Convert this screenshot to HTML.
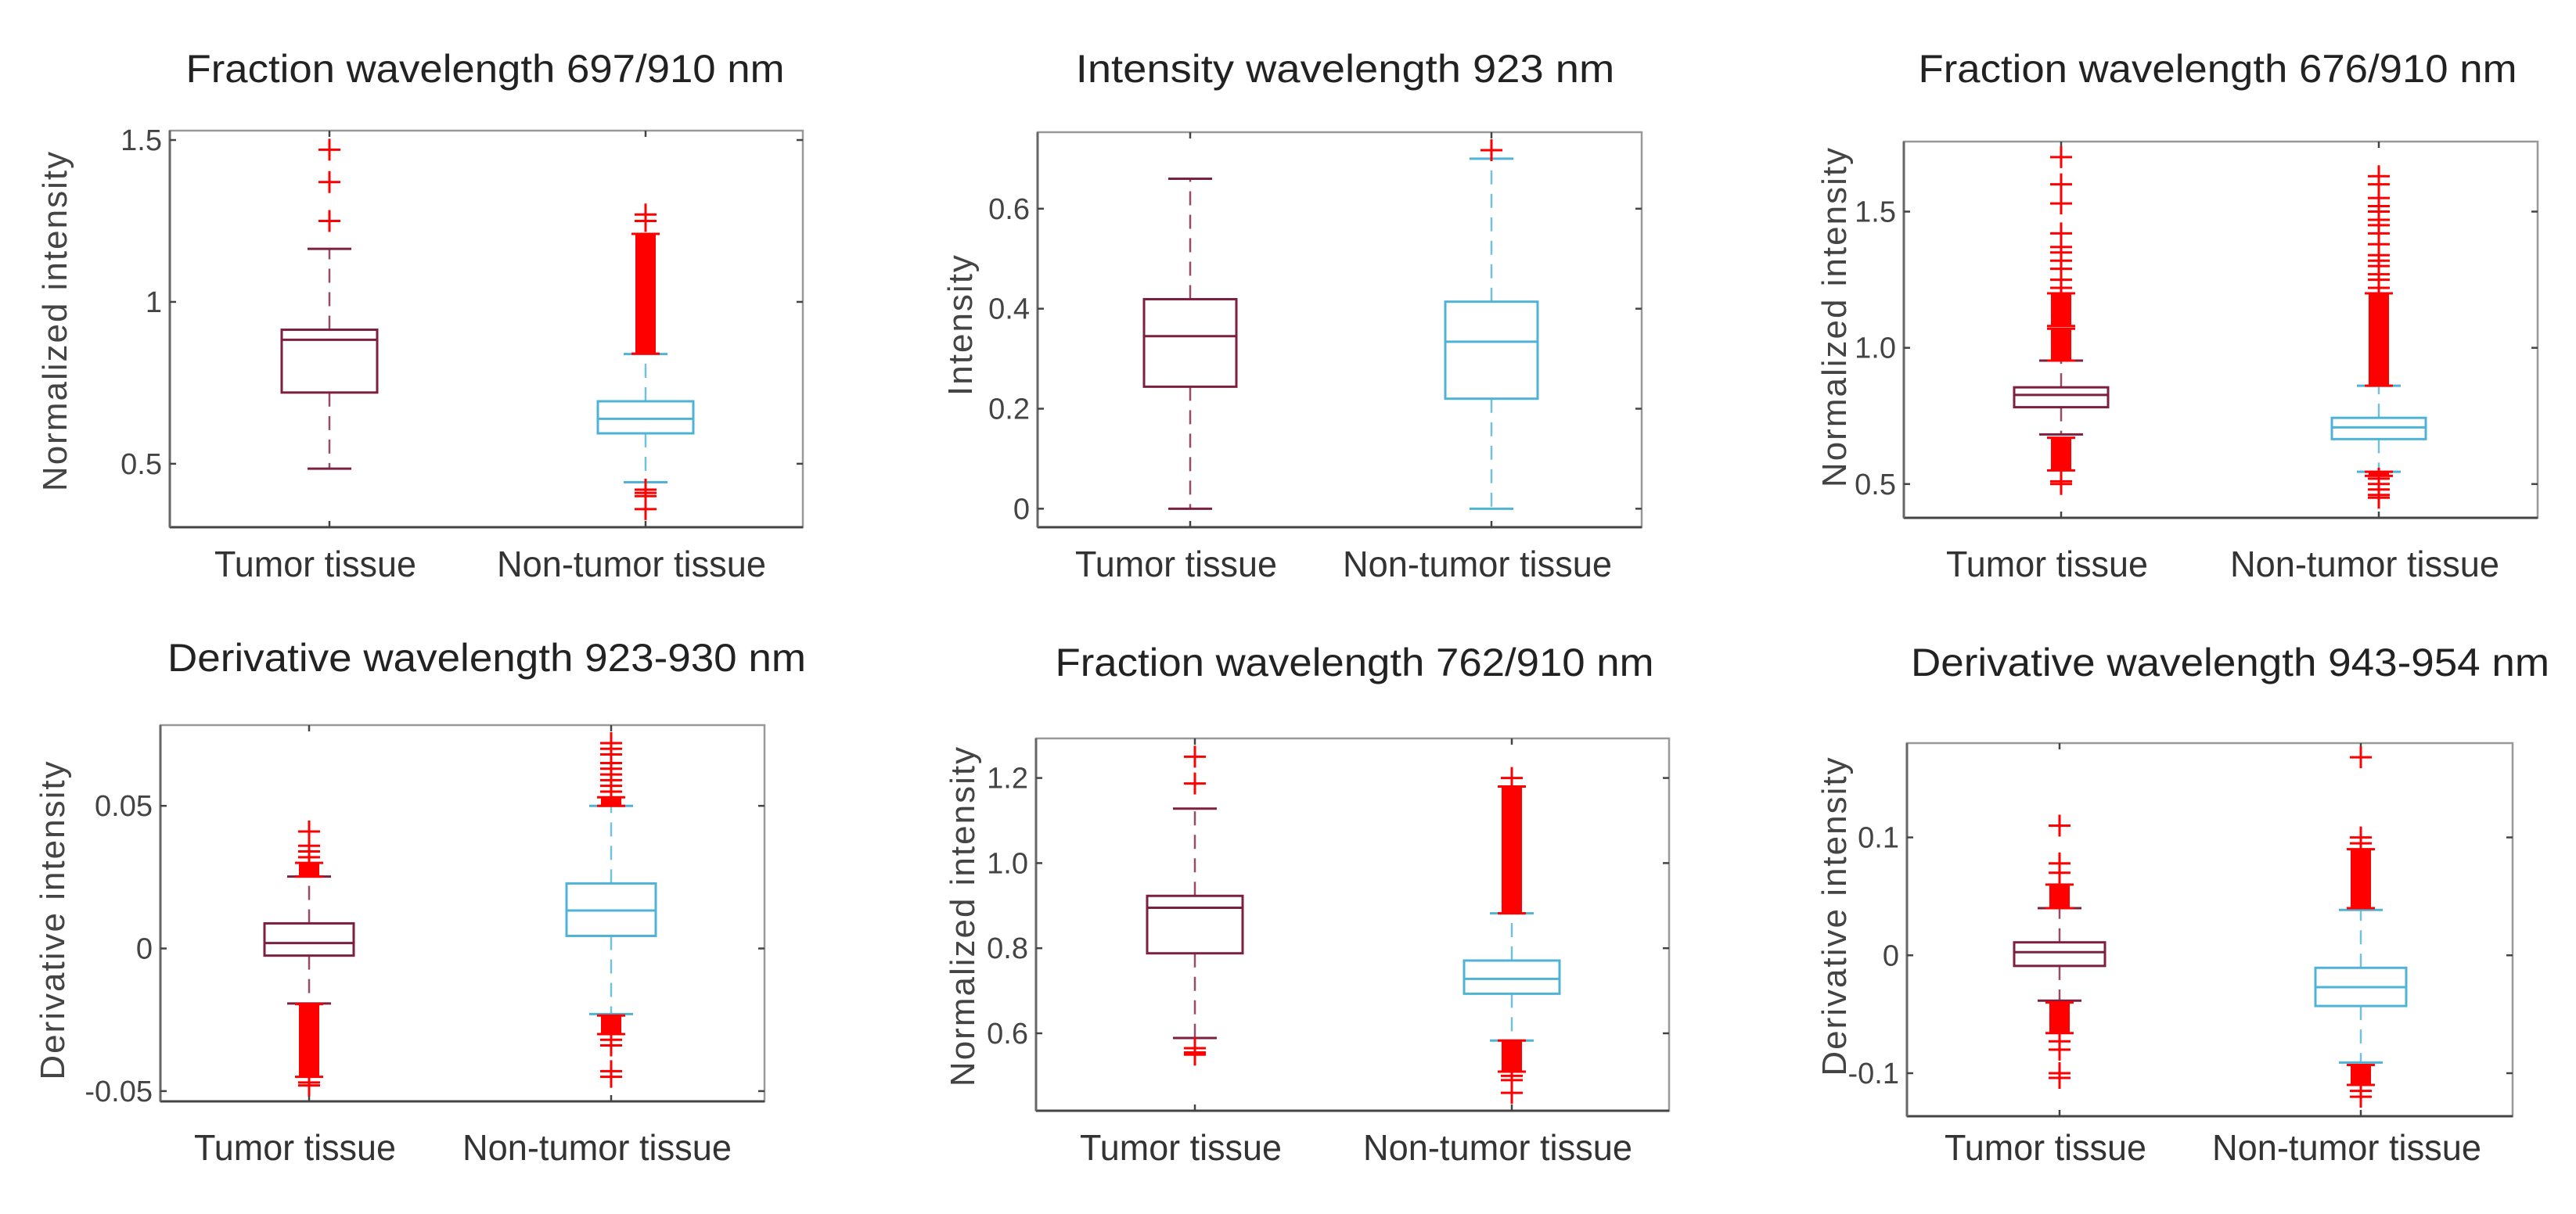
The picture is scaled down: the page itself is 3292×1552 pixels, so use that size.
<!DOCTYPE html>
<html><head><meta charset="utf-8"><style>
html,body{margin:0;padding:0;background:#fff;}
svg{display:block;}
text{font-family:"Liberation Sans",sans-serif;}
</style></head><body>
<svg id="fig" width="3292" height="1552" viewBox="0 0 3292 1552" xmlns="http://www.w3.org/2000/svg"></svg>
<script>
// ---------- data ----------
const categories = ["Tumor tissue", "Non-tumor tissue"];
const titles = ["Fraction wavelength 697/910 nm","Intensity wavelength 923 nm","Fraction wavelength 676/910 nm",
  "Derivative wavelength 923-930 nm","Fraction wavelength 762/910 nm","Derivative wavelength 943-954 nm"];
const yTitles = ["Normalized intensity","Intensity","Normalized intensity","Derivative intensity","Normalized intensity","Derivative intensity"];

// stats: [lowerWhisker, q1, median, q3, upperWhisker]
const p1Range=[0.304,1.529]; const p1Ticks=[0.5,1,1.5]; const p1TickLabels=["0.5","1","1.5"];
const p1Tumor=[0.485,0.72,0.883,0.914,1.164]; const p1Non=[0.443,0.594,0.639,0.693,0.839];
const p1TumorOut=[1.25,1.37,1.47]; const p1NonOut=[1.25,1.27,0.42,0.41,0.40,0.36];
const p1TumorDense=[]; const p1NonDense=[[0.84,1.21]];

const p2Range=[-0.037,0.753]; const p2Ticks=[0,0.2,0.4,0.6]; const p2TickLabels=["0","0.2","0.4","0.6"];
const p2Tumor=[0,0.244,0.345,0.419,0.66]; const p2Non=[0,0.22,0.334,0.414,0.70];
const p2TumorOut=[]; const p2NonOut=[0.717];
const p2TumorDense=[]; const p2NonDense=[];

const p3Range=[0.376,1.757]; const p3Ticks=[0.5,1.0,1.5]; const p3TickLabels=["0.5","1.0","1.5"];
const p3Tumor=[0.682,0.782,0.827,0.855,0.953]; const p3Non=[0.545,0.665,0.708,0.743,0.861];
const p3TumorOut=[1.70,1.60,1.53,1.42,1.37,1.35,1.32,1.29,1.25,1.22,0.50,0.51];
const p3NonOut=[1.63,1.60,1.55,1.52,1.50,1.47,1.45,1.42,1.38,1.34,1.32,1.30,1.27,1.25,1.22,0.52,0.50,0.48,0.46,0.45];
const p3TumorDense=[[0.953,1.07],[1.08,1.2],[0.55,0.67]]; const p3NonDense=[[0.861,1.2],[0.53,0.545]];

const p4Range=[-0.0536,0.0783]; const p4Ticks=[-0.05,0,0.05]; const p4TickLabels=["-0.05","0","0.05"];
const p4Tumor=[-0.0193,-0.0025,0.0019,0.0088,0.0252]; const p4Non=[-0.023,0.0044,0.0133,0.0228,0.05];
const p4TumorOut=[0.032,0.034,0.036,0.041,-0.047,-0.048];
const p4NonOut=[0.055,0.057,0.059,0.061,0.063,0.065,0.068,0.070,0.072,-0.032,-0.034,-0.043,-0.045];
const p4TumorDense=[[0.0252,0.030],[-0.045,-0.0195]]; const p4NonDense=[[0.05,0.053],[-0.030,-0.0235]];

const p5Range=[0.418,1.293]; const p5Ticks=[0.6,0.8,1.0,1.2]; const p5TickLabels=["0.6","0.8","1.0","1.2"];
const p5Tumor=[0.589,0.788,0.895,0.923,1.128]; const p5Non=[0.583,0.693,0.728,0.771,0.882];
const p5TumorOut=[1.25,1.187,0.565,0.555,0.55]; const p5NonOut=[1.2,1.18,0.50,0.49,0.46];
const p5TumorDense=[]; const p5NonDense=[[0.882,1.18],[0.51,0.583]];

const p6Range=[-0.1365,0.180]; const p6Ticks=[-0.1,0,0.1]; const p6TickLabels=["-0.1","0","0.1"];
const p6Tumor=[-0.0385,-0.009,0.0027,0.011,0.040]; const p6Non=[-0.091,-0.043,-0.027,-0.0106,0.0385];
const p6TumorOut=[0.11,0.07,0.078,-0.073,-0.08,-0.1,-0.104];
const p6NonOut=[0.168,0.1,0.095,-0.115,-0.12];
const p6TumorDense=[[0.04,0.06],[-0.066,-0.04]]; const p6NonDense=[[0.04,0.09],[-0.11,-0.093]];

// ---------- layout (pixels, not data) ----------
const layout=[
 {ax:[217,167,1026,674], cx:[421,825], hw:61, tx:620, ty:105, yx:70, yy:410, lx:737},
 {ax:[1326,169,2098,674], cx:[1521,1906], hw:59, tx:1719, ty:105, yx:1227, yy:415, lx:737},
 {ax:[2433,181,3243,662], cx:[2634,3040], hw:60, tx:2834, ty:105, yx:2344, yy:405, lx:737},
 {ax:[205,927,977,1408], cx:[395,781], hw:57, tx:622, ty:858, yx:67, yy:1176, lx:1483},
 {ax:[1324,944,2133,1420], cx:[1527,1932], hw:61, tx:1731, ty:864, yx:1230, yy:1171, lx:1483},
 {ax:[2437,950,3211,1427], cx:[2632,3017], hw:58, tx:2850, ty:864, yx:2344, yy:1171, lx:1483}
];
const panels=[
 [p1Range,p1Ticks,p1TickLabels,p1Tumor,p1Non,p1TumorOut,p1NonOut,p1TumorDense,p1NonDense],
 [p2Range,p2Ticks,p2TickLabels,p2Tumor,p2Non,p2TumorOut,p2NonOut,p2TumorDense,p2NonDense],
 [p3Range,p3Ticks,p3TickLabels,p3Tumor,p3Non,p3TumorOut,p3NonOut,p3TumorDense,p3NonDense],
 [p4Range,p4Ticks,p4TickLabels,p4Tumor,p4Non,p4TumorOut,p4NonOut,p4TumorDense,p4NonDense],
 [p5Range,p5Ticks,p5TickLabels,p5Tumor,p5Non,p5TumorOut,p5NonOut,p5TumorDense,p5NonDense],
 [p6Range,p6Ticks,p6TickLabels,p6Tumor,p6Non,p6TumorOut,p6NonOut,p6TumorDense,p6NonDense]
];
const colors=["#7d2040","#4fb3d6"];
const NS="http://www.w3.org/2000/svg";
const svg=document.getElementById("fig");
function mk(tag,attrs,parent,txt){const e=document.createElementNS(NS,tag);for(const k in attrs)e.setAttribute(k,attrs[k]);if(txt!==undefined)e.textContent=txt;(parent||svg).appendChild(e);return e;}

panels.forEach((p,i)=>{
  const L=layout[i]; const [x0,y0,x1,y1]=L.ax; const [r0,r1]=p[0];
  const ys=v=>y1-(v-r0)/(r1-r0)*(y1-y0);
  const g=mk("g",{});
  
  
  const t=mk("text",{x:L.tx,y:L.ty,"text-anchor":"middle","font-size":50,fill:"#222",textLength:titles[i].length*25.5,lengthAdjust:"spacingAndGlyphs"},g,titles[i]);
  
  
  const yt=mk("text",{x:0,y:0,"text-anchor":"middle","font-size":44,fill:"#444",transform:`translate(${L.yx+15},${L.yy}) rotate(-90)`,"letter-spacing":"2"},g,yTitles[i]);
  
  
  // axes box
  const fr=mk("rect",{x:x0,y:y0,width:x1-x0,height:y1-y0,fill:"none",stroke:"#999","stroke-width":2.5},g);
  
  
  mk("line",{x1:x0,y1:y1,x2:x1,y2:y1,stroke:"#444","stroke-width":3},g);
  mk("line",{x1:x0,y1:y0,x2:x0,y2:y1,stroke:"#666","stroke-width":3},g);
  // y ticks
  p[1].forEach((v,k)=>{
    const y=ys(v);
    mk("line",{x1:x0,y1:y,x2:x0+8,y2:y,stroke:"#444","stroke-width":2.5},g);
    mk("line",{x1:x1,y1:y,x2:x1-8,y2:y,stroke:"#444","stroke-width":2.5},g);
    const tl=mk("text",{x:x0-10,y:y+13,"text-anchor":"end","font-size":38,fill:"#444"},g,p[2][k]);
    
    
  });
  // categories
  [0,1].forEach(c=>{
    const cx=L.cx[c]; const st=p[3+c]; const col=colors[c];
    mk("line",{x1:cx,y1:y0,x2:cx,y2:y0+8,stroke:"#444","stroke-width":2.5},g);
    mk("line",{x1:cx,y1:y1,x2:cx,y2:y1-8,stroke:"#444","stroke-width":2.5},g);
    const xl=mk("text",{x:cx-18,y:L.lx,"text-anchor":"middle","font-size":46,fill:"#333",textLength:categories[c].length*21.5,lengthAdjust:"spacingAndGlyphs"},g,categories[c]);
    
    
    // whiskers
    const w1=mk("line",{x1:cx,y1:ys(st[3]),x2:cx,y2:ys(st[4]),stroke:col,"stroke-width":2.5,"stroke-dasharray":"18 12",opacity:0.8},g);
    
    
    const w2=mk("line",{x1:cx,y1:ys(st[1]),x2:cx,y2:ys(st[0]),stroke:col,"stroke-width":2.5,"stroke-dasharray":"18 12",opacity:0.8},g);
    
    
    [st[0],st[4]].forEach(v=>{
      const cap=mk("line",{x1:cx-28,y1:ys(v),x2:cx+28,y2:ys(v),stroke:col,"stroke-width":3},g);
      
      
    });
    // dense outlier blocks
    p[7+c].forEach(d=>{
      const r=mk("rect",{x:cx-13,y:ys(d[1]),width:26,height:Math.max(3,ys(d[0])-ys(d[1])),fill:"#f00"},g);
      
      
      mk("line",{x1:cx-18,y1:ys(d[1]),x2:cx+18,y2:ys(d[1]),stroke:"#f00","stroke-width":3},g);
      mk("line",{x1:cx-18,y1:ys(d[0]),x2:cx+18,y2:ys(d[0]),stroke:"#f00","stroke-width":3},g);
    });
    // outliers
    p[5+c].forEach(v=>{
      const y=ys(v);
      const o=mk("path",{d:`M${cx-14},${y}H${cx+14}M${cx},${y-14}V${y+14}`,stroke:"#f00","stroke-width":3,fill:"none"},g);
      
      
    });
    // box
    const b=mk("rect",{x:cx-L.hw,y:ys(st[3]),width:2*L.hw,height:ys(st[1])-ys(st[3]),fill:"none",stroke:col,"stroke-width":3},g);
    
    
    const m=mk("line",{x1:cx-L.hw,y1:ys(st[2]),x2:cx+L.hw,y2:ys(st[2]),stroke:col,"stroke-width":3},g);
    
    
  });
});
</script>
</body></html>
